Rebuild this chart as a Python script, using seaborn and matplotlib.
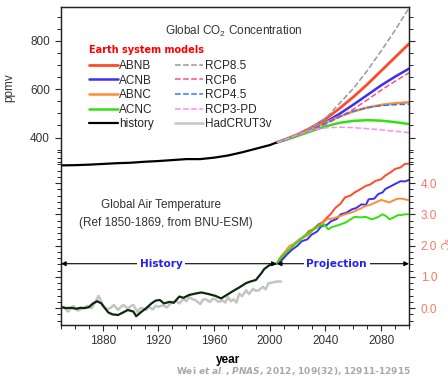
import numpy as np
import matplotlib
matplotlib.use('Agg')
import matplotlib.pyplot as plt
from matplotlib.ticker import MultipleLocator, FixedLocator
import seaborn as sns

# ---- CO2 concentration (ppmv) ----
co2_hist_years = [1850, 1860, 1870, 1880, 1890, 1900, 1910, 1920, 1930, 1940, 1950, 1960, 1970, 1980, 1990, 2000, 2005]
co2_hist = [285, 286, 288, 291, 294, 296, 300, 303, 307, 311, 311, 317, 326, 339, 354, 369, 380]

proj_years = [2005, 2010, 2020, 2030, 2040, 2050, 2060, 2070, 2080, 2090, 2100]
co2_abnb = [380, 390, 413, 442, 477, 520, 568, 620, 676, 732, 788]
co2_acnb = [380, 389, 410, 435, 464, 498, 536, 576, 616, 652, 685]
co2_abnc = [380, 389, 411, 436, 462, 487, 508, 524, 535, 542, 546]
co2_acnc = [380, 388, 407, 427, 446, 461, 469, 472, 470, 464, 456]
rcp85 = [380, 389, 412, 442, 479, 541, 603, 677, 758, 844, 936]
rcp6 = [380, 389, 409, 430, 455, 484, 517, 556, 596, 633, 668]
rcp45 = [380, 389, 412, 435, 460, 487, 509, 524, 532, 536, 538]
rcp3pd = [380, 389, 412, 431, 440, 443, 441, 437, 432, 426, 421]

# ---- global air temperature (deg C, ref 1850-1869) ----
t_hist_years = [1850, 1853, 1857, 1861, 1864, 1867, 1870, 1873, 1876, 1879, 1881, 1884, 1887, 1891, 1895, 1898,
                1902, 1904, 1908, 1911, 1915, 1918, 1921, 1924, 1928, 1931, 1935, 1938, 1942, 1947, 1951, 1956,
                1961, 1965, 1968, 1973, 1978, 1983, 1986, 1990, 1994, 1996, 1999, 2001, 2005]
t_hist = [0.04, 0.0, 0.01, -0.02, 0.01, 0.0, 0.03, 0.15, 0.22, 0.15, 0.03, -0.14, -0.2, -0.22, -0.13, -0.06,
          -0.11, -0.26, -0.11, -0.01, 0.15, 0.24, 0.26, 0.15, 0.2, 0.17, 0.37, 0.33, 0.42, 0.47, 0.5, 0.45,
          0.39, 0.31, 0.39, 0.53, 0.66, 0.8, 0.85, 0.9, 1.12, 1.25, 1.35, 1.4, 1.42]

had_years = [1850, 1852, 1855, 1857, 1859, 1862, 1864, 1867, 1869, 1872, 1874, 1877, 1879, 1880, 1883, 1886,
             1888, 1891, 1893, 1895, 1898, 1900, 1902, 1905, 1907, 1909, 1911, 1913, 1916, 1918, 1920, 1923,
             1926, 1928, 1930, 1933, 1935, 1938, 1940, 1942, 1944, 1947, 1950, 1952, 1954, 1957, 1959, 1961,
             1963, 1966, 1968, 1970, 1972, 1974, 1976, 1978, 1980, 1983, 1985, 1988, 1990, 1992, 1995, 1997,
             1999, 2002, 2005, 2008]
had_t = [-0.01, 0.05, -0.11, -0.02, 0.07, -0.08, -0.04, 0.02, 0.07, 0.0, 0.15, 0.39, 0.2, 0.07, -0.04, 0.02,
         0.1, -0.06, 0.04, 0.1, -0.02, 0.06, 0.1, -0.13, 0.0, -0.01, -0.06, 0.04, -0.04, 0.08, 0.04, 0.09,
         0.02, 0.12, 0.2, 0.22, 0.15, 0.3, 0.22, 0.35, 0.3, 0.24, 0.13, 0.27, 0.28, 0.2, 0.3, 0.28,
         0.2, 0.24, 0.18, 0.35, 0.22, 0.28, 0.18, 0.46, 0.38, 0.57, 0.45, 0.62, 0.55, 0.57, 0.68, 0.6,
         0.79, 0.82, 0.85, 0.85]

abnb_years = [2005, 2008, 2011, 2014, 2018, 2021, 2025, 2028, 2031, 2035, 2038, 2041, 2044, 2047, 2051, 2054,
              2058, 2061, 2065, 2069, 2072, 2076, 2080, 2083, 2087, 2090, 2094, 2097, 2100]
abnb_t = [1.42, 1.55, 1.72, 1.87, 2.05, 2.19, 2.3, 2.46, 2.52, 2.68, 2.75, 2.89, 3.02, 3.2, 3.35, 3.54,
          3.6, 3.7, 3.8, 3.91, 3.95, 4.07, 4.12, 4.24, 4.35, 4.45, 4.5, 4.61, 4.62]
acnb_years = [2005, 2009, 2012, 2016, 2020, 2023, 2027, 2030, 2034, 2037, 2041, 2044, 2048, 2051, 2055, 2059,
              2062, 2066, 2069, 2071, 2075, 2078, 2081, 2083, 2087, 2090, 2094, 2097, 2100]
acnb_t = [1.42, 1.55, 1.7, 1.87, 2.0, 2.14, 2.2, 2.35, 2.45, 2.62, 2.66, 2.78, 2.85, 3.0, 3.05, 3.16,
          3.2, 3.32, 3.3, 3.48, 3.5, 3.65, 3.7, 3.81, 3.9, 3.97, 4.06, 4.05, 4.1]
abnc_years = [2005, 2007, 2010, 2014, 2017, 2021, 2024, 2028, 2031, 2035, 2038, 2041, 2044, 2047, 2051, 2054,
              2058, 2061, 2065, 2069, 2072, 2076, 2080, 2083, 2086, 2089, 2092, 2095, 2098, 2100]
abnc_t = [1.42, 1.6, 1.75, 1.98, 2.05, 2.19, 2.25, 2.35, 2.5, 2.62, 2.72, 2.84, 2.86, 2.89, 2.95, 3.0,
          3.05, 3.1, 3.18, 3.27, 3.3, 3.38, 3.46, 3.42, 3.38, 3.45, 3.5, 3.5, 3.47, 3.45]
acnc_years = [2005, 2006, 2010, 2014, 2017, 2021, 2024, 2028, 2031, 2035, 2039, 2042, 2045, 2047, 2051, 2055,
              2058, 2061, 2065, 2069, 2073, 2076, 2078, 2081, 2084, 2086, 2089, 2092, 2095, 2097, 2100]
acnc_t = [1.42, 1.5, 1.7, 1.87, 2.0, 2.14, 2.28, 2.41, 2.5, 2.62, 2.68, 2.52, 2.6, 2.62, 2.68, 2.75,
          2.84, 2.92, 2.9, 2.92, 2.84, 2.88, 2.92, 3.0, 2.93, 2.84, 2.9, 2.97, 2.98, 3.0, 3.0]

x_ticks = [1880, 1920, 1960, 2000, 2040, 2080]
co2_ticks = [400, 600, 800]
t_ticks = [0, 1, 2, 3, 4]

# colours
c_abnb = '#ff4a2a'
c_acnb = '#3b2ff5'
c_abnc = '#ff8c33'
c_acnc = '#33e010'
c_temp = '#f47a64'

sns.set_style('ticks')
plt.rcParams['font.family'] = ['Liberation Sans', 'DejaVu Sans']
plt.rcParams['mathtext.fontset'] = 'custom'
plt.rcParams['mathtext.rm'] = 'Liberation Sans'
plt.rcParams['mathtext.it'] = 'DejaVu Sans:italic:bold'

W, H = 448, 376
fig = plt.figure(figsize=(W / 100, H / 100), dpi=100)
fig.patch.set_facecolor('white')
ax = fig.add_axes([61 / W, 1 - 325 / H, 348 / W, 318 / H])
ax2 = ax.twinx()


def fx(px):
    return px / W


def fy(py):
    return 1 - py / H


def line(a, xs, ys, color, lw, ls='-'):
    sns.lineplot(x=xs, y=ys, ax=a, color=color, lw=lw, linestyle=ls, errorbar=None, sort=False)
    return a.lines[-1]


# CO2 panel
h_abnb = line(ax, proj_years, co2_abnb, c_abnb, 2.0)
h_acnb = line(ax, proj_years, co2_acnb, c_acnb, 1.8)
h_abnc = line(ax, proj_years, co2_abnc, c_abnc, 1.8)
h_acnc = line(ax, proj_years, co2_acnc, c_acnc, 1.8)
h_hist = line(ax, co2_hist_years, co2_hist, 'black', 1.6)
h_85 = line(ax, proj_years, rcp85, '#999999', 1.1, '--')
h_6 = line(ax, proj_years, rcp6, '#ff4d88', 1.1, '--')
h_45 = line(ax, proj_years, rcp45, '#3377ff', 1.1, '--')
h_3 = line(ax, proj_years, rcp3pd, '#ff88ff', 1.1, '--')

# temperature panel
h_had = line(ax2, had_years, had_t, '#c4c4c4', 1.8)
line(ax2, t_hist_years, t_hist, '#0c2a0c', 1.6)
line(ax2, abnb_years, abnb_t, c_abnb, 1.4)
line(ax2, acnb_years, acnb_t, c_acnb, 1.4)
line(ax2, abnc_years, abnc_t, c_abnc, 1.4)
line(ax2, acnc_years, acnc_t, c_acnc, 1.4)

ax.set_xlim(1850, 2100)
ax.set_ylim(-375, 940)
ax2.set_ylim(-0.54, 9.63)
ax.set_xticks(x_ticks)
ax.xaxis.set_minor_locator(MultipleLocator(10))
ax.set_yticks(co2_ticks)
ax.yaxis.set_minor_locator(FixedLocator(np.arange(300, 901, 50)))
ax2.set_yticks(t_ticks)
ax2.set_yticklabels(['%.1f' % t for t in t_ticks])
ax2.yaxis.set_minor_locator(FixedLocator(np.arange(-0.4, 5.01, 0.2)))

for s in list(ax.spines.values()) + list(ax2.spines.values()):
    s.set_linewidth(0.9)
    s.set_color('#222222')

ax.tick_params(axis='x', which='both', bottom=True, top=False, direction='out', labelsize=8.5,
               labelcolor='#333333', pad=3)
ax.tick_params(axis='both', which='major', length=4.5, width=0.8)
ax.tick_params(axis='both', which='minor', length=2.6, width=0.7)
ax.tick_params(axis='y', which='both', left=True, right=True, labelsize=8.5, labelcolor='#333333')
ax2.tick_params(axis='y', which='both', left=True, right=True, labelleft=False, labelright=True,
                labelsize=8.5, labelcolor=c_temp, pad=4)
ax2.tick_params(axis='y', which='major', length=4.5, width=0.8)
ax2.tick_params(axis='y', which='minor', length=2.6, width=0.7)
ax.grid(False)
ax2.grid(False)

ax.set_xlabel('year', fontsize=8.5, fontweight='bold', color='black')
ax.xaxis.set_label_coords(0.48, -0.09)
ax.set_ylabel('ppmv', fontsize=8.5, color='#333333')
ax.yaxis.set_label_coords(-0.13, 0.745)
ax2.set_ylabel('')
fig.text(fx(442), fy(244), '°C', rotation=270, color=c_temp, fontsize=8, ha='center', va='center')

# titles and labels
fig.text(fx(234), fy(31), 'Global CO$_2$ Concentration', fontsize=8.5, color='#333333', ha='center', va='center')
fig.text(fx(146), fy(50), 'Earth system models', fontsize=7, fontweight='bold', color='#ff0000',
         family='DejaVu Sans', ha='center', va='center')
fig.text(fx(161), fy(205), 'Global Air Temperature', fontsize=8.5, color='#333333', ha='center', va='center')
fig.text(fx(166), fy(223), '(Ref 1850-1869, from BNU-ESM)', fontsize=8.5, color='#333333', ha='center', va='center')

handles = [h_abnb, h_acnb, h_abnc, h_acnc, h_hist, h_85, h_6, h_45, h_3, h_had]
labels = ['ABNB', 'ACNB', 'ABNC', 'ACNC', 'history', 'RCP8.5', 'RCP6', 'RCP4.5', 'RCP3-PD', 'HadCRUT3v']
ax2.legend(handles, labels, ncol=2, loc='upper left', bbox_to_anchor=(fx(89), fy(60)),
           bbox_transform=fig.transFigure, frameon=False, fontsize=8.5, handlelength=2.45,
           handletextpad=0.1, labelspacing=0.22, columnspacing=1.75, borderpad=0, borderaxespad=0)

# history / projection arrows
arr_t = 1.42
ax2.annotate('', xy=(1850, arr_t), xytext=(2005, arr_t),
             arrowprops=dict(arrowstyle='<|-|>', color='black', lw=0.8, mutation_scale=7, shrinkA=0, shrinkB=0))
ax2.annotate('', xy=(2100, arr_t), xytext=(2005, arr_t),
             arrowprops=dict(arrowstyle='<|-|>', color='black', lw=0.8, mutation_scale=7, shrinkA=0, shrinkB=0))
ax2.text(1922, arr_t, 'History', fontsize=7.6, fontweight='bold', color='#2222ee', family='DejaVu Sans',
         ha='center', va='center', bbox=dict(facecolor='white', edgecolor='none', pad=2))
ax2.text(2048, arr_t, 'Projection', fontsize=7.6, fontweight='bold', color='#2222ee', family='DejaVu Sans',
         ha='center', va='center', bbox=dict(facecolor='white', edgecolor='none', pad=2))

fig.text(fx(293), fy(371), r'Wei $et\ al.$, $PNAS$, 2012, 109(32), 12911-12915', fontsize=6.5,
         fontweight='bold', color='#a8a8a8', family='DejaVu Sans', ha='center', va='center')

fig.savefig('out.png', dpi=100)
